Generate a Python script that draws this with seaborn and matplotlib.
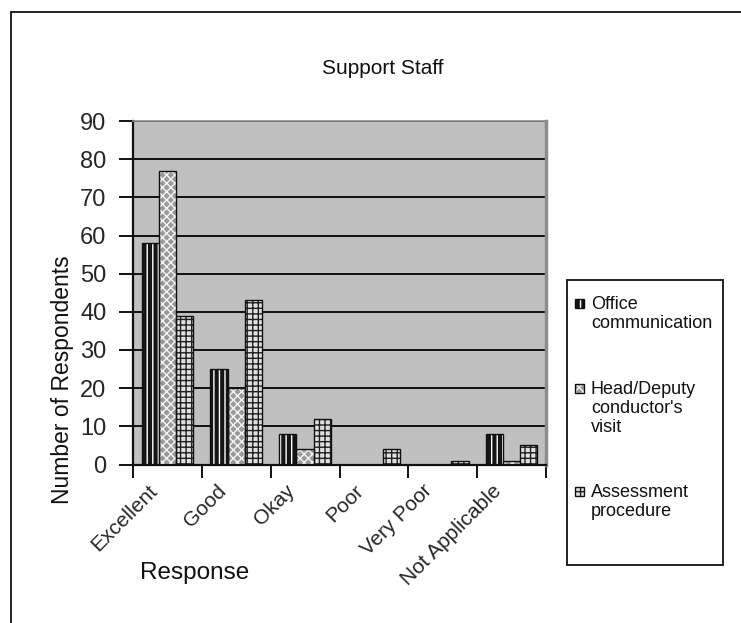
import matplotlib
matplotlib.use("Agg")
import matplotlib.pyplot as plt
from matplotlib.patches import Rectangle
from matplotlib.lines import Line2D
import matplotlib.transforms as mtransforms
import seaborn as sns
import pandas as pd
import numpy as np

categories = ["Excellent", "Good", "Okay", "Poor", "Very Poor", "Not Applicable"]
series = ["Office\ncommunication", "Head/Deputy\nconductor's\nvisit", "Assessment\nprocedure"]
office = [58, 25, 8, 0, 0, 8]
head_deputy = [77, 20, 4, 0, 0, 1]
assessment = [39, 43, 12, 4, 1, 5]
yticks = [0, 10, 20, 30, 40, 50, 60, 70, 80, 90]

values = [office, head_deputy, assessment]
rows = []
for s, vals in zip(series, values):
    for c, v in zip(categories, vals):
        rows.append({"Response": c, "Series": s, "Count": v})
df = pd.DataFrame(rows)

sns.set_style("white")
plt.rcParams["font.family"] = ["Liberation Sans", "DejaVu Sans"]
plt.rcParams["hatch.linewidth"] = 1.0

W, H = 741, 623
fig = plt.figure(figsize=(W / 100, H / 100), dpi=100)
ax = fig.add_axes([133 / W, 1 - 464.5 / H, (546 - 133) / W, (464.5 - 121) / H])

# styles per series: (face, hatch, hatch colour)
styles = [
    ("#151515", "|||", "#ffffff"),
    ("#9a9a9a", "xxxx", "#f4f4f4"),
    ("#e0e0e0", "+++", "#202020"),
]

sns.barplot(data=df, x="Response", y="Count", hue="Series", order=categories,
            hue_order=series, palette=[s[0] for s in styles], width=0.75,
            saturation=1, legend=False, ax=ax, zorder=3)

for cont, (fc, hatch, hc) in zip(ax.containers, styles):
    for p in cont:
        p.set_facecolor(fc)
        p.set_hatch(hatch)
        p.set_edgecolor(hc)
        p.set_linewidth(0)
        p.set_zorder(3)
        if p.get_height() > 0:
            ax.add_patch(Rectangle((p.get_x(), p.get_y()), p.get_width(), p.get_height(),
                                   fill=False, edgecolor="#111111", linewidth=1.0, zorder=4))

ax.set_facecolor("#c0c0c0")
ax.set_ylim(0, 90)
ax.set_xlim(-0.5, len(categories) - 0.5)
ax.set_yticks(yticks)
ax.set_yticklabels([str(t) for t in yticks], fontsize=17)
ax.yaxis.grid(True, color="#111111", linewidth=1.4, zorder=1)
ax.set_axisbelow(True)
ax.tick_params(axis="y", direction="out", length=10, width=1.4, color="#111111", pad=9,
               left=True)
ax.set_xticks(range(len(categories)))
ax.set_xticklabels(categories, fontsize=15, rotation=45, ha="right", va="top",
                   rotation_mode="anchor")
ax.tick_params(axis="x", which="major", length=0, pad=12)
shift = mtransforms.ScaledTranslation(-0.2, 0, fig.dpi_scale_trans)
for lab in ax.get_xticklabels():
    lab.set_transform(lab.get_transform() + shift)
ax.set_xticks(np.arange(-0.5, len(categories), 1.0), minor=True)
ax.tick_params(axis="x", which="minor", direction="out", length=9, width=1.4,
               color="#111111", bottom=True)
ax.set_xlabel("")
ax.set_ylabel("")

for side in ["left", "bottom"]:
    ax.spines[side].set_color("#111111")
    ax.spines[side].set_linewidth(1.6)
ax.spines["right"].set_color("#8c8c8c")
ax.spines["right"].set_linewidth(2.5)
ax.spines["top"].set_color("#8c8c8c")
ax.spines["top"].set_linewidth(1.2)
for side in ax.spines:
    ax.spines[side].set_visible(True)
    ax.spines[side].set_zorder(5)

def fx(px):
    return px / W

def fy(py):
    return 1 - py / H

fig.text(fx(383), fy(68), "Support Staff", fontsize=15, ha="center", va="center",
         color="#111111")
fig.text(fx(62), fy(380), "Number of Respondents", fontsize=16.5, rotation=90,
         ha="center", va="center", color="#111111")
fig.text(fx(195), fy(573), "Response", fontsize=17.5, ha="center", va="center",
         color="#111111")

# outer border (cropped at right and bottom)
fig.add_artist(Line2D([fx(10.5), fx(10.5)], [fy(11.5), 0], color="#111111", linewidth=1.3))
fig.add_artist(Line2D([fx(10.5), 1], [fy(11.5), fy(11.5)], color="#111111", linewidth=1.3))

# legend box
fig.add_artist(Rectangle((fx(567), fy(565)), fx(723) - fx(567), fy(280) - fy(565),
                         fill=False, edgecolor="#111111", linewidth=1.3,
                         transform=fig.transFigure))
entry_tops = [299, 384, 487]
for s, (fc, hatch, hc), top in zip(series, styles, entry_tops):
    fig.add_artist(Rectangle((fx(575), fy(top + 9)), fx(9), fy(top) - fy(top + 9),
                             facecolor=fc, hatch=hatch, edgecolor=hc, linewidth=0,
                             transform=fig.transFigure))
    fig.add_artist(Rectangle((fx(575), fy(top + 9)), fx(9), fy(top) - fy(top + 9),
                             fill=False, edgecolor="#111111", linewidth=1.0,
                             transform=fig.transFigure))
    fig.text(fx(591), fy(top - 3), s, fontsize=13, ha="left", va="top",
             linespacing=1.15, color="#111111")

fig.savefig("out.png", dpi=100, facecolor="white")
